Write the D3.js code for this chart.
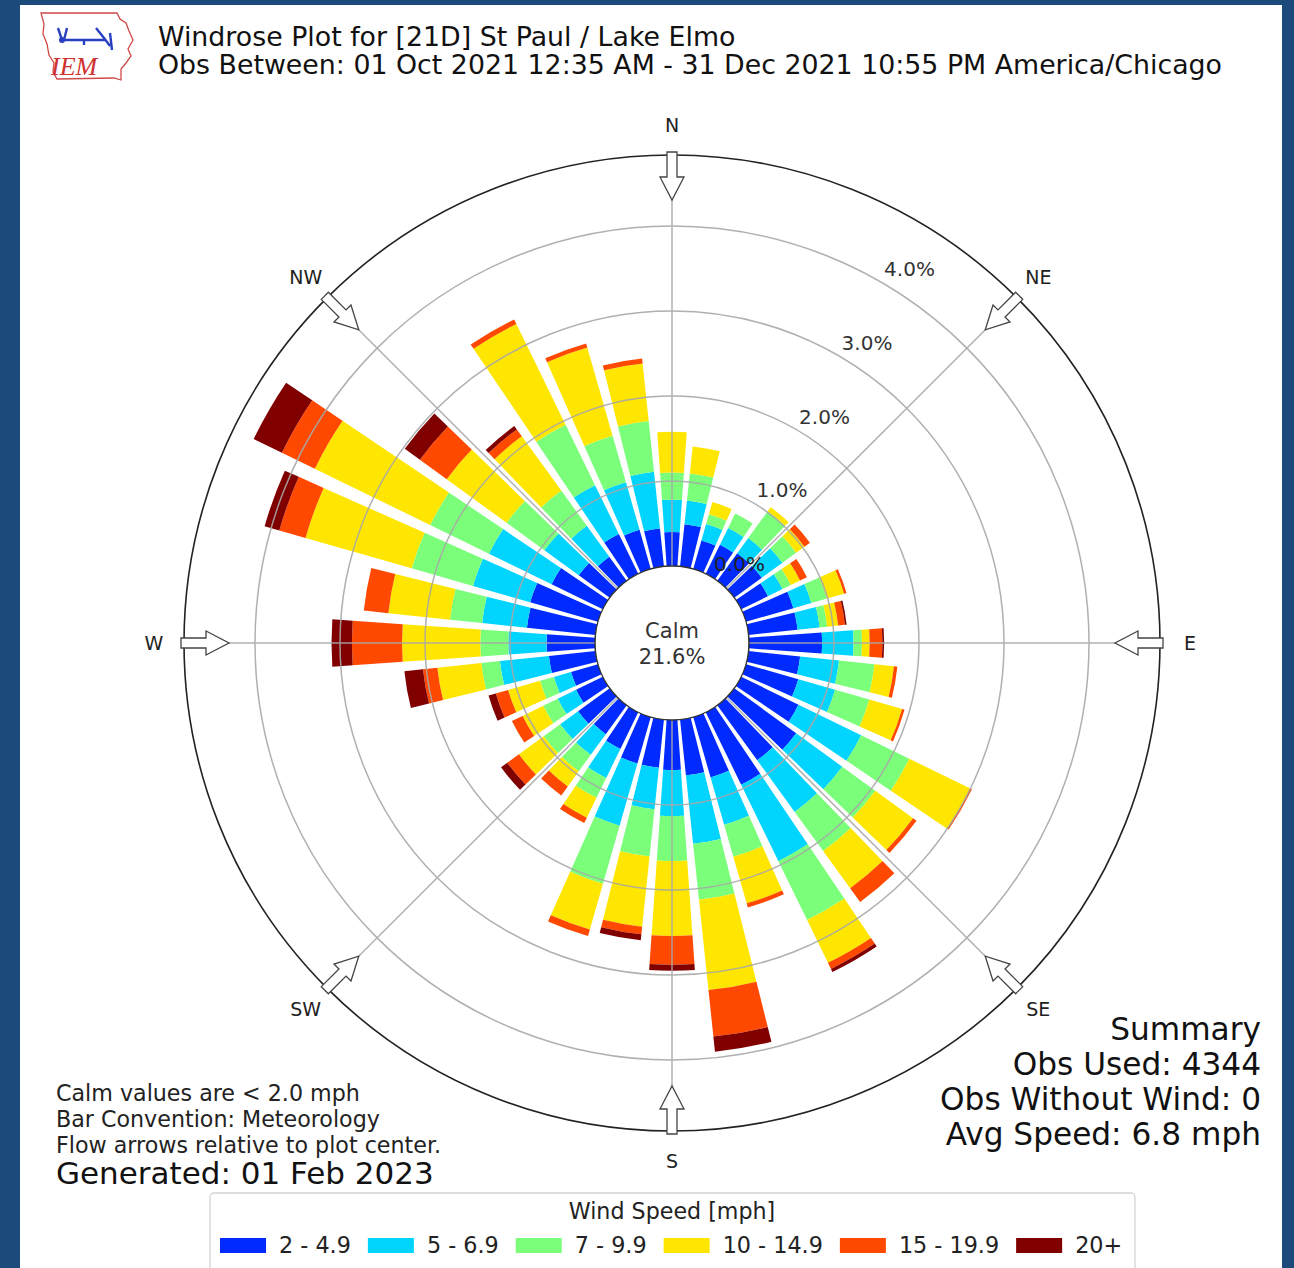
<!DOCTYPE html>
<html><head><meta charset="utf-8">
<script src="https://cdn.jsdelivr.net/npm/d3@7"></script>
<style>
body{margin:0;background:#1b4a7b;}
svg{display:block;font-family:"DejaVu Sans",sans-serif;}
</style></head>
<body><svg id="c" width="1294" height="1268"></svg>
<script>
// ---- data (percent of observations, per 10-degree direction bin) ----
const directions = [0,10,20,30,40,50,60,70,80,90,100,110,120,130,140,150,160,170,180,190,200,210,220,230,240,250,260,270,280,290,300,310,320,330,340,350];
const speedBins = ["2 - 4.9","5 - 6.9","7 - 9.9","10 - 14.9","15 - 19.9","20+"];
const binColors = ["#002aff","#00d4ff","#7bff7b","#ffe600","#ff4800","#800000"];
const s2to5   = [0.40,0.50,0.35,0.38,0.40,0.40,0.35,0.58,0.58,0.86,0.61,0.64,0.75,0.90,0.80,0.95,0.74,0.66,0.59,0.57,0.57,0.48,0.42,0.46,0.35,0.33,0.55,0.57,0.81,0.83,0.67,0.45,0.35,0.52,0.48,0.45];
const s5to7   = [0.38,0.28,0.20,0.22,0.22,0.30,0.19,0.22,0.26,0.37,0.46,0.45,0.82,0.67,0.75,1.00,0.58,0.81,0.54,0.49,0.76,0.38,0.30,0.26,0.24,0.21,0.58,0.45,0.53,0.70,0.82,0.50,0.45,0.64,0.58,0.67];
const s7to10  = [0.32,0.32,0.12,0.19,0.39,0.20,0.11,0.19,0.09,0.10,0.42,0.42,0.63,0.48,0.57,0.77,0.39,0.66,0.53,0.56,0.71,0.26,0.24,0.24,0.19,0.17,0.22,0.33,0.38,0.75,0.77,0.55,0.51,0.79,0.57,0.60];
const s10to15 = [0.48,0.32,0.15,0.00,0.06,0.12,0.12,0.21,0.13,0.09,0.23,0.40,0.80,0.55,0.54,0.56,0.57,1.07,0.88,0.83,0.56,0.26,0.22,0.36,0.27,0.39,0.52,0.92,0.73,1.30,1.51,0.87,0.79,1.32,1.08,0.68];
const s15to20 = [0.00,0.00,0.00,0.00,0.00,0.08,0.09,0.03,0.08,0.15,0.04,0.03,0.02,0.05,0.20,0.08,0.05,0.55,0.34,0.09,0.08,0.07,0.13,0.17,0.14,0.15,0.17,0.59,0.29,0.32,0.43,0.39,0.10,0.06,0.05,0.06];
const s20plus = [0.00,0.00,0.00,0.00,0.00,0.00,0.00,0.00,0.02,0.02,0.00,0.00,0.00,0.00,0.00,0.04,0.00,0.18,0.07,0.07,0.00,0.00,0.00,0.09,0.00,0.09,0.22,0.24,0.00,0.18,0.37,0.22,0.05,0.00,0.00,0.00];
const ringTicks = [0,1,2,3,4];
const ringLabels = ["0.0%","1.0%","2.0%","3.0%","4.0%"];
const compassAngles = [0,45,90,135,180,225,270,315];
const compassLabels = ["N","NE","E","SE","S","SW","W","NW"];
const calmPct = "21.6%";
const titleLines = ["Windrose Plot for [21D] St Paul / Lake Elmo","Obs Between: 01 Oct 2021 12:35 AM - 31 Dec 2021 10:55 PM America/Chicago"];
const noteLines = ["Calm values are < 2.0 mph","Bar Convention: Meteorology","Flow arrows relative to plot center."];
const generatedText = "Generated: 01 Feb 2023";
const summaryLines = ["Summary","Obs Used: 4344","Obs Without Wind: 0","Avg Speed: 6.8 mph"];
const legendTitle = "Wind Speed [mph]";

// ---- setup ----
const svg = d3.select("#c");
const cx = 672, cy = 643;
svg.append("rect").attr("x",20).attr("y",5).attr("width",1262).attr("height",1300).attr("fill","#fff");

const rScale = d3.scaleLinear().domain([0,4]).range([77,417]);
const rOuter = 488;
const deg = Math.PI/180;
const keys = ["a","b","c","d","e","f"];
const rows = directions.map((d,i)=>({dir:d,a:s2to5[i],b:s5to7[i],c:s7to10[i],d:s10to15[i],e:s15to20[i],f:s20plus[i]}));
const stacked = d3.stack().keys(keys)(rows);
const arc = d3.arc();
const plot = svg.append("g").attr("transform",`translate(${cx},${cy})`);

// bars
stacked.forEach((layer,k)=>{
  plot.append("g").selectAll("path").data(layer.filter(s=>s[1]-s[0]>0)).join("path")
    .attr("d",s=>arc({innerRadius:rScale(s[0]),outerRadius:rScale(s[1]),startAngle:(s.data.dir-4)*deg,endAngle:(s.data.dir+4)*deg}))
    .attr("fill",binColors[k]);
});

// grid
const grid = plot.append("g").attr("fill","none").attr("stroke","#a8a8a8").attr("stroke-width",1.5).attr("opacity",0.9);
ringTicks.slice(1).forEach(t=>grid.append("circle").attr("r",rScale(t)));
compassAngles.forEach(a=>{
  grid.append("line").attr("x1",rScale(0)*Math.sin(a*deg)).attr("y1",-rScale(0)*Math.cos(a*deg))
    .attr("x2",rOuter*Math.sin(a*deg)).attr("y2",-rOuter*Math.cos(a*deg));
});

// outer circle
plot.append("circle").attr("r",rOuter).attr("fill","none").attr("stroke","#222").attr("stroke-width",1.6);

// calm circle
plot.append("circle").attr("r",rScale(0)).attr("fill","#fff").attr("stroke","#333").attr("stroke-width",1.5);
plot.append("text").attr("x",0).attr("y",-5).attr("text-anchor","middle").attr("font-size",21).attr("fill","#333").text("Calm");
plot.append("text").attr("x",0).attr("y",21).attr("text-anchor","middle").attr("font-size",21).attr("fill","#333").text(calmPct);

// ring labels
ringTicks.forEach((t,i)=>{
  const rr = rScale(t);
  plot.append("text").attr("x",rr*Math.sin(30*deg)+29).attr("y",-rr*Math.cos(30*deg)-13+7.5)
    .attr("text-anchor","middle").attr("font-size",20).attr("fill",i===0?"#222":"#333").text(ringLabels[i]);
});

// flow arrows
const arrowPts = [[-5,491],[5,491],[5,466],[12,466],[0,443],[-12,466],[-5,466]];
compassAngles.forEach(a=>{
  const pts = arrowPts.map(([v,u])=>{
    const s=Math.sin(a*deg), c=Math.cos(a*deg);
    return [u*s + v*c, -u*c + v*s];
  });
  plot.append("polygon").attr("points",pts.map(p=>p.join(",")).join(" "))
    .attr("fill","#fff").attr("stroke","#444").attr("stroke-width",1.3);
});

// compass labels
compassLabels.forEach((l,i)=>{
  const a = compassAngles[i]*deg;
  plot.append("text").attr("x",518*Math.sin(a)).attr("y",-518*Math.cos(a)+7)
    .attr("text-anchor","middle").attr("font-size",19).attr("fill","#222").text(l);
});

// title
titleLines.forEach((t,i)=>svg.append("text").attr("x",158).attr("y",46+28*i).attr("font-size",26.8).attr("fill","#111").text(t));

// logo
const logo = svg.append("g");
logo.append("path").attr("d","M41,13 L117,13 L120,19 L126,23 L129,31 L133,40 L128,49 L131,56 L126,63 L121,69 L121,80 L114,78 L57,79 L53,72 L54,63 L49,55 L47,44 L43,34 L44,24 Z")
  .attr("fill","#fff").attr("stroke","#d04848").attr("stroke-width",1.3);
logo.append("path").attr("d","M58,28 L62,40 L106,40 M64,40 L67,28 M96,28 L104,38 L110,46 M110,33 L112,50 M84,40 L84,45").attr("stroke","#2840c0").attr("stroke-width",2.4).attr("fill","none");
logo.append("circle").attr("cx",62).attr("cy",40).attr("r",3).attr("fill","#2840c0");
logo.append("text").attr("x",51).attr("y",75).attr("font-family","Liberation Serif, serif").attr("font-style","italic").attr("font-size",26).attr("fill","#d03030").text("IEM");

// notes
noteLines.forEach((t,i)=>svg.append("text").attr("x",56).attr("y",1101+26*i).attr("font-size",22.2).attr("fill","#222").text(t));
svg.append("text").attr("x",56).attr("y",1184).attr("font-size",31).attr("fill","#111").text(generatedText);

// summary
summaryLines.forEach((t,i)=>svg.append("text").attr("x",1261).attr("y",1040+35*i).attr("text-anchor","end").attr("font-size",31.2).attr("fill","#111").text(t));

// legend
const lg = svg.append("g");
lg.append("rect").attr("x",210).attr("y",1193).attr("width",925).attr("height",100).attr("rx",4).attr("fill","#fff").attr("stroke","#d4d4d4").attr("stroke-width",1.3);
lg.append("text").attr("x",672).attr("y",1219).attr("text-anchor","middle").attr("font-size",22.2).attr("fill","#222").text(legendTitle);
let lx = 220;
speedBins.forEach((b,i)=>{
  lg.append("rect").attr("x",lx).attr("y",1238).attr("width",46).attr("height",15).attr("fill",binColors[i]);
  const t = lg.append("text").attr("x",lx+59).attr("y",1253).attr("font-size",22.3).attr("fill","#222").text(b);
  lx = lx + 59 + t.node().getComputedTextLength() + 17;
});
</script></body></html>
